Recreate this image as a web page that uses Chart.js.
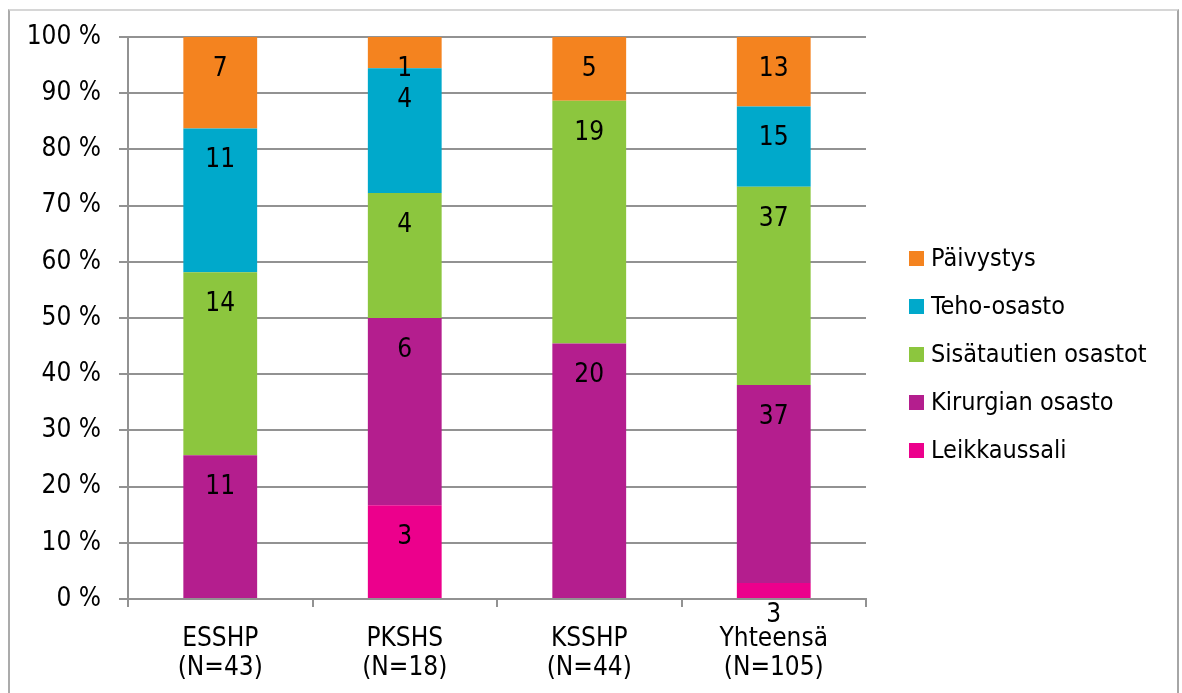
<!DOCTYPE html>
<html lang="fi">
<head>
<meta charset="utf-8">
<title>Potilaat osastoittain</title>
<script src="https://cdn.jsdelivr.net/npm/chart.js@4/dist/chart.umd.min.js"></script>
<style>
  html, body { margin: 0; padding: 0; background: #ffffff; }
  #wrap { position: relative; width: 1182px; height: 693px; overflow: hidden; }
  #frame {
    position: absolute; left: 8px; top: 9px; width: 1171px; height: 720px;
    border-top: 2px solid #d6d6d6; border-left: 2px solid #ababab; border-right: 2px solid #a6a6a6;
    box-sizing: border-box;
  }
  canvas { position: absolute; left: 0; top: 0; }
</style>
</head>
<body>
<div id="wrap">
  <div id="frame"></div>
  <canvas id="chart" width="1182" height="693"></canvas>
</div>
<script>
// Units and their patient counts
const units = ['ESSHP', 'PKSHS', 'KSSHP', 'Yhteensä'];
const totals = [43, 18, 44, 105];

// Counts per ward type (bottom of the stack first)
const leikkaussali = [0, 3, 0, 3];
const kirurgianOsasto = [11, 6, 20, 37];
const sisatautienOsastot = [14, 4, 19, 37];
const tehoOsasto = [11, 4, 0, 15];
const paivystys = [7, 1, 5, 13];

const seriesNames = ['Leikkaussali', 'Kirurgian osasto', 'Sisätautien osastot', 'Teho-osasto', 'Päivystys'];
const seriesCounts = [leikkaussali, kirurgianOsasto, sisatautienOsastot, tehoOsasto, paivystys];
const seriesColors = ['#ec008c', '#b41e8e', '#8cc63e', '#00a9cb', '#f4831f'];

const yTickValues = [0, 10, 20, 30, 40, 50, 60, 70, 80, 90, 100];

const FONT = "'DejaVu Sans Condensed', 'DejaVu Sans', sans-serif";
const GRID = '#929292';

const labels = units.map((u, i) => [u, '(N=' + totals[i] + ')']);

const datasets = seriesNames.map((name, s) => ({
  label: name,
  counts: seriesCounts[s],
  data: seriesCounts[s].map((c, i) => c / totals[i] * 100),
  backgroundColor: seriesColors[s],
  borderWidth: 0,
  categoryPercentage: 1.0,
  barPercentage: 0.4
}));

// Count labels, placed just inside the top of each segment
const countLabels = {
  id: 'countLabels',
  afterDatasetsDraw(chart) {
    const ctx = chart.ctx;
    ctx.save();
    ctx.font = '26px ' + FONT;
    ctx.fillStyle = '#000000';
    ctx.textAlign = 'center';
    ctx.textBaseline = 'middle';
    chart.data.datasets.forEach((ds, di) => {
      const meta = chart.getDatasetMeta(di);
      meta.data.forEach((bar, i) => {
        const c = ds.counts[i];
        if (c > 0) ctx.fillText(String(c), bar.x, bar.y + 32);
      });
    });
    ctx.restore();
  }
};

// Legend at the right, top series first
const sideLegend = {
  id: 'sideLegend',
  afterDraw(chart) {
    const ctx = chart.ctx;
    const items = chart.data.datasets.map(d => ({ text: d.label, color: d.backgroundColor })).reverse();
    ctx.save();
    ctx.font = '25px ' + FONT;
    ctx.textAlign = 'left';
    ctx.textBaseline = 'middle';
    items.forEach((it, k) => {
      const cy = 258 + k * 48;
      ctx.fillStyle = it.color;
      ctx.fillRect(909, cy - 7, 15, 15);
      ctx.fillStyle = '#000000';
      ctx.fillText(it.text, 931, cy + 1);
    });
    ctx.restore();
  }
};

new Chart(document.getElementById('chart'), {
  type: 'bar',
  data: { labels, datasets },
  options: {
    responsive: false,
    animation: false,
    layout: { padding: { top: 37, right: 316, left: 0, bottom: 0 } },
    plugins: {
      legend: { display: false },
      tooltip: { enabled: false }
    },
    scales: {
      x: {
        stacked: true,
        offset: true,
        afterFit(scale) { scale.height = 94; },
        grid: {
          offset: true,
          drawOnChartArea: false,
          drawTicks: true,
          tickLength: 8,
          color: GRID,
          lineWidth: 2
        },
        border: { display: true, color: GRID, width: 2 },
        ticks: {
          color: '#000000',
          font: { family: FONT, size: 26, lineHeight: 1.1 },
          padding: 18,
          maxRotation: 0,
          autoSkip: false
        }
      },
      y: {
        stacked: true,
        min: 0,
        max: 100,
        afterFit(scale) { scale.width = 128; },
        afterBuildTicks(scale) { scale.ticks = yTickValues.map(v => ({ value: v })); },
        grid: {
          drawTicks: true,
          tickLength: 9,
          color: GRID,
          lineWidth: 2
        },
        border: { display: true, color: GRID, width: 2 },
        ticks: {
          color: '#000000',
          font: { family: FONT, size: 26 },
          padding: 18,
          callback: v => v + ' %'
        }
      }
    }
  },
  plugins: [countLabels, sideLegend]
});
</script>
</body>
</html>
